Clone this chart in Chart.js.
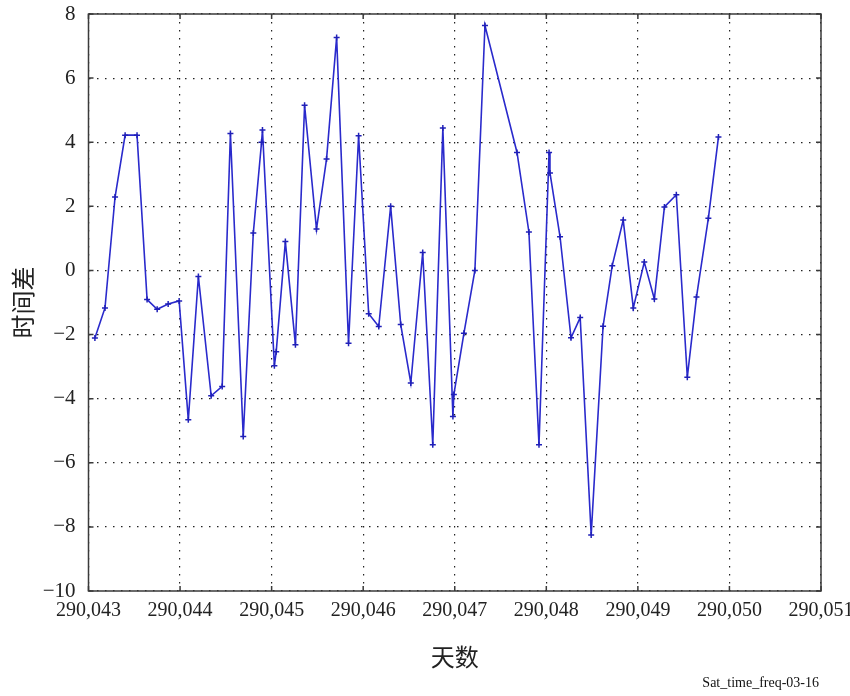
<!DOCTYPE html>
<html>
<head>
<meta charset="utf-8">
<script src="https://cdn.jsdelivr.net/npm/chart.js@4.4.1/dist/chart.umd.min.js"></script>
<style>
    body { margin: 0; background: #fff; }
    canvas { display: block; }
</style>
</head>
<body>
<canvas id="satChart" width="850" height="696"></canvas>
<script>
// day number (fraction of a day) and measured time difference
const days = [
    290.04307, 290.04318, 290.04329, 290.04340, 290.04353, 290.04364, 290.04375, 290.04387,
    290.04399, 290.04409, 290.04420, 290.04434, 290.04446, 290.04455, 290.04469, 290.04480,
    290.04489, 290.04490, 290.04503, 290.04505, 290.04515, 290.04526, 290.04536, 290.04549,
    290.04560, 290.04571, 290.04584, 290.04595, 290.04606, 290.04617, 290.04630, 290.04641,
    290.04652, 290.04665, 290.04676, 290.04687, 290.04698, 290.04699, 290.04710, 290.04722,
    290.04733, 290.04768, 290.04781, 290.04792, 290.04803, 290.04804, 290.04815, 290.04827,
    290.04837, 290.04849, 290.04862, 290.04872, 290.04884, 290.04895, 290.04907, 290.04918,
    290.04929, 290.04942, 290.04954, 290.04964, 290.04977, 290.04988
];
const timeDiff = [
    -2.11, -1.17, 2.29, 4.22, 4.22, -0.91, -1.21, -1.05,
    -0.95, -4.66, -0.19, -3.91, -3.62, 4.27, -5.18, 1.17,
    4.0, 4.38, -2.97, -2.54, 0.9, -2.32, 5.15, 1.29,
    3.48, 7.27, -2.27, 4.2, -1.35, -1.75, 2.0, -1.69,
    -3.51, 0.56, -5.44, 4.44, -4.56, -3.87, -1.96, 0.0,
    7.64, 3.68, 1.2, -5.44, 3.68, 3.04, 1.05, -2.1,
    -1.47, -8.25, -1.74, 0.15, 1.57, -1.17, 0.26, -0.89,
    1.98, 2.36, -3.33, -0.83, 1.63, 4.16
];

const xTicks = [290.043, 290.044, 290.045, 290.046, 290.047, 290.048, 290.049, 290.050, 290.051];
const yTicks = [-10, -8, -6, -4, -2, 0, 2, 4, 6, 8];

const serif = "'Liberation Serif', 'Times New Roman', serif";
const cjk = "'Noto Sans CJK SC', sans-serif";

// solid frame plus short inward ticks on all four sides
const frameTicks = {
    id: 'frameTicks',
    afterDraw(chart) {
        const {ctx, chartArea: a, scales} = chart;
        const len = 5;
        ctx.save();
        ctx.strokeStyle = '#3a3a3a';
        ctx.lineWidth = 1.5;
        ctx.beginPath();
        xTicks.forEach(v => {
            const px = scales.x.getPixelForValue(v);
            ctx.moveTo(px, a.top); ctx.lineTo(px, a.top + len);
            ctx.moveTo(px, a.bottom); ctx.lineTo(px, a.bottom - len);
        });
        yTicks.forEach(v => {
            const py = scales.y.getPixelForValue(v);
            ctx.moveTo(a.left, py); ctx.lineTo(a.left + len, py);
            ctx.moveTo(a.right, py); ctx.lineTo(a.right - len, py);
        });
        ctx.stroke();
        ctx.strokeRect(a.left, a.top, a.right - a.left, a.bottom - a.top);

        ctx.fillStyle = '#111';
        ctx.font = '14px ' + serif;
        ctx.textAlign = 'right';
        ctx.textBaseline = 'alphabetic';
        ctx.fillText('Sat_time_freq-03-16', a.right - 2, 687);
        ctx.restore();
    }
};

new Chart(document.getElementById('satChart'), {
    type: 'line',
    data: {
        datasets: [{
            data: days.map((d, i) => ({x: d, y: timeDiff[i]})),
            borderColor: '#2a2acc',
            borderWidth: 1.6,
            pointStyle: 'cross',
            pointRadius: 3,
            pointBorderColor: '#2020b8',
            pointBorderWidth: 1.5,
            tension: 0,
            fill: false
        }]
    },
    options: {
        responsive: false,
        animation: false,
        devicePixelRatio: 1,
        layout: { padding: { top: 14, right: 29, left: 0, bottom: 0 } },
        plugins: {
            legend: { display: false },
            tooltip: { enabled: false }
        },
        scales: {
            x: {
                type: 'linear',
                min: 290.043,
                max: 290.051,
                afterBuildTicks: scale => { scale.ticks = xTicks.map(v => ({value: v})); },
                afterFit: scale => {
                    scale.height = 105;
                    scale.paddingLeft = 0;
                    scale.paddingRight = 0;
                },
                grid: { color: '#222', lineWidth: 1.2, drawTicks: false },
                border: { display: false, dash: [1.5, 6.5] },
                ticks: {
                    maxRotation: 0,
                    autoSkip: false,
                    padding: 8,
                    color: '#222',
                    font: { family: serif, size: 20 },
                    callback: v => v.toFixed(3).replace('.', ',')
                },
                title: {
                    display: true,
                    text: '天数',
                    color: '#222',
                    font: { family: cjk, size: 24 },
                    padding: { top: 0, bottom: 25 }
                }
            },
            y: {
                min: -10,
                max: 8,
                afterBuildTicks: scale => { scale.ticks = yTicks.map(v => ({value: v})); },
                afterFit: scale => {
                    scale.width = 88.5;
                    scale.paddingTop = 0;
                    scale.paddingBottom = 0;
                },
                grid: { color: '#222', lineWidth: 1.2, drawTicks: false },
                border: { display: false, dash: [1.5, 6.5] },
                ticks: {
                    padding: 13,
                    color: '#222',
                    font: { family: serif, size: 21 },
                    callback: v => String(v).replace('-', '\u2212')
                },
                title: {
                    display: true,
                    text: '时间差',
                    color: '#222',
                    font: { family: cjk, size: 24 },
                    padding: { top: 8, bottom: 0 }
                }
            }
        }
    },
    plugins: [frameTicks]
});
</script>
</body>
</html>
